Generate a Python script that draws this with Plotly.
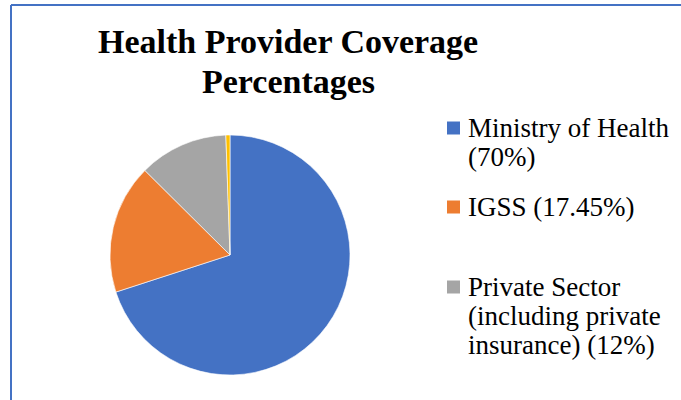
import plotly.graph_objects as go

# ---- data ----
categories = ["Ministry of Health", "IGSS", "Private Sector (including private insurance)", "Other"]
values = [70, 17.45, 12, 0.55]
colors = ["#4472C4", "#ED7D31", "#A5A5A5", "#FFC000"]
legend_lines = [
    ["Ministry of Health", "(70%)"],
    ["IGSS (17.45%)"],
    ["Private Sector", "(including private", "insurance) (12%)"],
]
title_lines = ["Health Provider Coverage", "Percentages"]

W, H = 681, 400
SERIF = "Liberation Serif, Times New Roman, serif"

def px(x):
    return x / W

def py(y):
    return 1 - y / H

fig = go.Figure()
fig.add_trace(go.Pie(
    labels=categories,
    values=values,
    marker=dict(colors=colors, line=dict(color="white", width=0.6)),
    sort=False,
    direction="clockwise",
    rotation=0,
    textinfo="none",
    hoverinfo="label+percent",
    showlegend=False,
    domain=dict(x=[px(110), px(350)], y=[py(375), py(135)]),
))

annotations = []
shapes = []

# title
title_y = [42, 81]
for t, yy in zip(title_lines, title_y):
    annotations.append(dict(
        text=f"<b>{t}</b>", x=px(288), y=py(yy), xref="paper", yref="paper",
        xanchor="center", yanchor="middle", showarrow=False,
        font=dict(family=SERIF, size=34, color="black"),
    ))

# legend (manual so spacing matches)
entry_top = [128, 207, 287]
line_gap = 29
for i, lines in enumerate(legend_lines):
    y0 = entry_top[i]
    shapes.append(dict(
        type="rect", xref="paper", yref="paper",
        x0=px(447), x1=px(460), y0=py(y0 - 6.5), y1=py(y0 + 6.5),
        fillcolor=colors[i], line=dict(width=0),
    ))
    for j, ln in enumerate(lines):
        annotations.append(dict(
            text=ln, x=px(466), y=py(y0 + j * line_gap), xref="paper", yref="paper",
            xanchor="left", yanchor="middle", showarrow=False,
            font=dict(family=SERIF, size=27, color="black"),
        ))

# chart-area border (cropped at right and bottom)
shapes.append(dict(type="line", xref="paper", yref="paper",
                   x0=px(11), x1=px(700), y0=py(5), y1=py(5),
                   line=dict(color="#4472C4", width=2)))
shapes.append(dict(type="line", xref="paper", yref="paper",
                   x0=px(11), x1=px(11), y0=py(5), y1=py(420),
                   line=dict(color="#4472C4", width=2)))

fig.update_layout(
    width=W, height=H,
    margin=dict(l=0, r=0, t=0, b=0),
    paper_bgcolor="white", plot_bgcolor="white",
    annotations=annotations, shapes=shapes,
    showlegend=False,
)

fig.write_html("out.html")
